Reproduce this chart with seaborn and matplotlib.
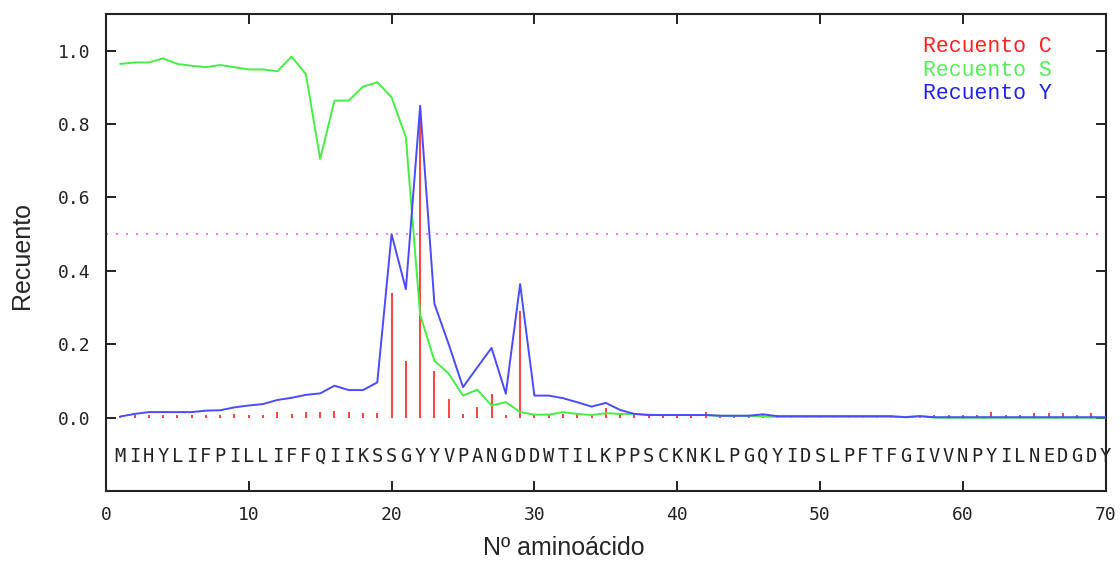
import numpy as np
import pandas as pd
import matplotlib
matplotlib.use("Agg")
import matplotlib.pyplot as plt
import seaborn as sns

sns.set_style("ticks")
plt.rcParams['font.family'] = ['Liberation Sans', 'DejaVu Sans']

# amino acid sequence (positions 1..70)
sequence = list("MIHYLIFPILLIFFQIIKSSGYYVPANGDDWTILKPPSCKNKLPGQYIDSLPFTFGIVVNPYILNEDGDY")
positions = np.arange(1, len(sequence) + 1)

# C score (impulses)
c_score = [0.005, 0.008, 0.008, 0.008, 0.008, 0.008, 0.008, 0.008, 0.010, 0.008,
           0.008, 0.014, 0.010, 0.014, 0.014, 0.018, 0.014, 0.012, 0.012, 0.340,
           0.155, 0.840, 0.128, 0.052, 0.010, 0.028, 0.065, 0.006, 0.290, 0.010,
           0.010, 0.010, 0.010, 0.006, 0.025, 0.010, 0.010, 0.008, 0.008, 0.008,
           0.008, 0.016, 0.006, 0.006, 0.006, 0.008, 0.008, 0.005, 0.005, 0.005,
           0.005, 0.005, 0.005, 0.005, 0.005, 0.005, 0.008, 0.006, 0.006, 0.006,
           0.006, 0.016, 0.006, 0.006, 0.012, 0.012, 0.012, 0.006, 0.012, 0.004]

# S score
s_score = [0.964, 0.968, 0.968, 0.979, 0.964, 0.959, 0.955, 0.961, 0.955, 0.949,
           0.949, 0.944, 0.984, 0.936, 0.705, 0.864, 0.864, 0.902, 0.914, 0.873,
           0.764, 0.280, 0.155, 0.120, 0.060, 0.076, 0.033, 0.042, 0.015, 0.008,
           0.008, 0.015, 0.010, 0.007, 0.012, 0.010, 0.010, 0.008, 0.007, 0.007,
           0.007, 0.007, 0.005, 0.005, 0.005, 0.003, 0.002, 0.002, 0.002, 0.002,
           0.002, 0.002, 0.002, 0.002, 0.002, 0.002, 0.004, 0.000, 0.000, 0.000,
           0.000, 0.000, 0.000, 0.000, 0.000, 0.000, 0.000, 0.000, 0.000, 0.000]

# Y score
y_score = [0.003, 0.010, 0.015, 0.015, 0.015, 0.015, 0.019, 0.020, 0.028, 0.033,
           0.037, 0.048, 0.054, 0.062, 0.066, 0.087, 0.075, 0.075, 0.096, 0.500,
           0.350, 0.850, 0.310, 0.200, 0.083, 0.137, 0.190, 0.065, 0.364, 0.060,
           0.060, 0.053, 0.042, 0.030, 0.040, 0.021, 0.010, 0.007, 0.007, 0.007,
           0.007, 0.007, 0.005, 0.005, 0.005, 0.009, 0.004, 0.004, 0.004, 0.004,
           0.004, 0.004, 0.004, 0.004, 0.004, 0.001, 0.004, 0.001, 0.001, 0.001,
           0.001, 0.001, 0.001, 0.001, 0.001, 0.001, 0.001, 0.001, 0.001, 0.001]

threshold = 0.5
x_ticks = [0, 10, 20, 30, 40, 50, 60, 70]
y_ticks = [0.0, 0.2, 0.4, 0.6, 0.8, 1.0]

df = pd.DataFrame({'pos': positions, 'C': c_score, 'S': s_score, 'Y': y_score})

fig = plt.figure(figsize=(11.2, 5.61), dpi=100)
ax = fig.add_axes([0.0946, 0.1248, 0.8926, 0.8502])

ax.axhline(threshold, color='#f080f0', lw=1.5, linestyle=(0, (1, 3.8)), zorder=1)
ax.vlines(df['pos'], 0, df['C'], color='#ff3030', lw=1.3, zorder=2)
sns.lineplot(data=df, x='pos', y='S', color='#44ee44', lw=1.4, ax=ax, zorder=3)
sns.lineplot(data=df, x='pos', y='Y', color='#4a4aff', lw=1.4, ax=ax, zorder=4)

# sequence letters under the curves
for p, aa in zip(positions, sequence):
    ax.text(p, -0.105, aa, ha='center', va='center', fontsize=13.5,
            family='DejaVu Sans Mono', color='#222222', clip_on=False)

# key
ax.text(0.817, 0.931, 'Recuento C', transform=ax.transAxes, color='#ff2020',
        fontsize=15.5, family='Liberation Mono', va='center')
ax.text(0.817, 0.881, 'Recuento S', transform=ax.transAxes, color='#55ee55',
        fontsize=15.5, family='Liberation Mono', va='center')
ax.text(0.817, 0.833, 'Recuento Y', transform=ax.transAxes, color='#2020ee',
        fontsize=15.5, family='Liberation Mono', va='center')

ax.set_xlim(0, 70)
ax.set_ylim(-0.2, 1.1)
ax.set_xticks(x_ticks)
ax.set_xticklabels([str(t) for t in x_ticks])
ax.set_yticks(y_ticks)
ax.set_yticklabels(['%.1f' % t for t in y_ticks])
ax.tick_params(direction='in', length=7, width=1.4, colors='#222222',
               top=True, right=True, labelsize=13)
ax.tick_params(axis='x', pad=11)
ax.tick_params(axis='y', pad=11)
for lab in ax.get_xticklabels() + ax.get_yticklabels():
    lab.set_fontfamily('DejaVu Sans Mono')
for sp in ax.spines.values():
    sp.set_color('#222222')
    sp.set_linewidth(1.5)

ax.set_xlabel('')
ax.set_ylabel('')
fig.text(0.503, 0.023, 'Nº aminoácido', ha='center', va='center', fontsize=18)
fig.text(0.0196, 0.545, 'Recuento', ha='center', va='center', fontsize=18,
         rotation=90)

fig.savefig('out.png', dpi=100)
